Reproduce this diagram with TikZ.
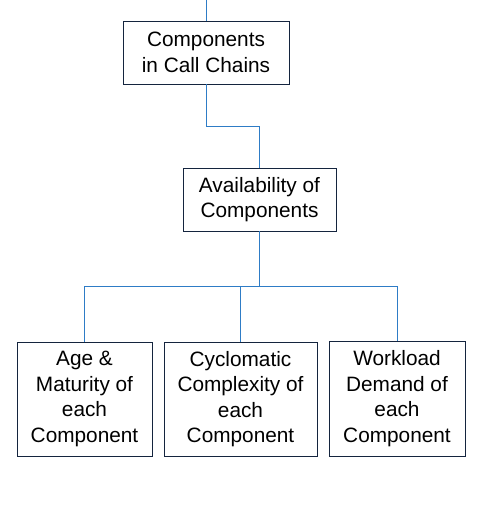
\documentclass[tikz,border=0pt]{standalone}
\usepackage{fontspec}
\setmainfont{Liberation Sans}
\usetikzlibrary{positioning}
\definecolor{linkblue}{RGB}{46,124,198}
\definecolor{boxnavy}{RGB}{20,36,62}

\begin{document}
\begin{tikzpicture}[x=1pt,y=-1pt,
    every node/.style = {font=\fontsize{20.8}{25.5}\selectfont},
    box/.style  = {draw=boxnavy, line width=0.85pt, fill=white,
                   align=center, inner sep=0pt},
    link/.style = {draw=linkblue, line width=0.8pt}]
  \useasboundingbox (0,0) rectangle (489,517);
  \coordinate (in) at (206,0);
  \node[box,minimum width=166pt,minimum height=63pt] (cc) at (206,52.5)
    {Components\\in Call Chains};
  \node[box,minimum width=153pt,minimum height=63pt] (av) at (259.5,199.5)
    {Availability of\\Components};
  \node[box,minimum width=135pt,minimum height=114pt] (age) at (84.5,399)
    {Age \&\\Maturity of\\each\\Component};
  \node[box,minimum width=153pt,minimum height=114pt] (cyc) at (240.5,399)
    {Cyclomatic\\Complexity of\\each\\Component};
  \node[box,minimum width=136pt,minimum height=115pt] (wl) at (397,398.5)
    {Workload\\Demand of\\each\\Component};
  % connectors
  \draw[link] (in) -- (cc.north);
  \draw[link] (cc.south) -- ++(0,42) -| (av.north);
  \draw[link] (av.south) -- ++(0,55) -| (age.north);
  \draw[link] (av.south) -- ++(0,55) -| (cyc.north);
  \draw[link] (av.south) -- ++(0,55) -| (wl.north);
\end{tikzpicture}
\end{document}
